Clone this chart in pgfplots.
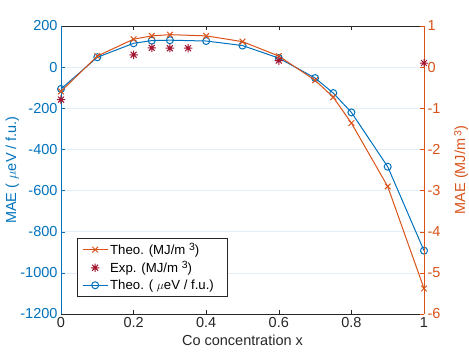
\documentclass[border=0pt]{standalone}
\usepackage{fontspec}
\setmainfont{Liberation Sans}
\usepackage{pgfplots}
\usepackage{pgfplotstable}
\pgfplotsset{compat=1.18}

\definecolor{mblue}{rgb}{0,0.447,0.741}
\definecolor{morange}{rgb}{0.85,0.325,0.098}
\definecolor{mred}{rgb}{0.635,0.078,0.184}
\definecolor{axgray}{rgb}{0.15,0.15,0.15}
\definecolor{gridc}{rgb}{0.89,0.93,0.97}

% MATLAB-like 8-armed asterisk
\pgfdeclareplotmark{ast8}{%
  \pgfpathmoveto{\pgfqpoint{-\pgfplotmarksize}{0pt}}%
  \pgfpathlineto{\pgfqpoint{\pgfplotmarksize}{0pt}}%
  \pgfpathmoveto{\pgfqpoint{0pt}{-\pgfplotmarksize}}%
  \pgfpathlineto{\pgfqpoint{0pt}{\pgfplotmarksize}}%
  \pgfpathmoveto{\pgfqpoint{-0.707\pgfplotmarksize}{-0.707\pgfplotmarksize}}%
  \pgfpathlineto{\pgfqpoint{0.707\pgfplotmarksize}{0.707\pgfplotmarksize}}%
  \pgfpathmoveto{\pgfqpoint{-0.707\pgfplotmarksize}{0.707\pgfplotmarksize}}%
  \pgfpathlineto{\pgfqpoint{0.707\pgfplotmarksize}{-0.707\pgfplotmarksize}}%
  \pgfusepathqstroke}

% x, theory in ueV/f.u., theory in MJ/m^3
\pgfplotstableread{
x     mev   mj
0     -106  -0.59
0.1    48    0.27
0.2    116   0.68
0.25   129   0.76
0.3    131   0.79
0.4    127   0.76
0.5    105   0.62
0.6    44    0.27
0.7   -53   -0.32
0.75  -126  -0.73
0.8   -220  -1.36
0.9   -484  -2.90
1     -892  -5.38
}\theo

\pgfplotstableread{
x     mj
0    -0.79
0.2   0.30
0.25  0.47
0.3   0.46
0.35  0.46
0.6   0.16
1     0.10
}\expdata

\newcommand{\axfont}{\fontsize{14.5}{17}\selectfont}
\newcommand{\supthree}{\raisebox{0.5ex}{\fontsize{10.5}{10}\selectfont 3}}

\begin{document}
\begin{tikzpicture}
\pgfplotsset{
  every axis/.append style={
    scale only axis, width=363pt, height=288pt,
    xmin=0, xmax=1,
    tick align=inside, major tick length=3.6pt,
    tick label style={font=\axfont},
    label style={font=\axfont},
    /pgf/number format/assume math mode=true,
    /pgf/number format/1000 sep={},
  },
}
\begin{axis}[
  ymin=-1200, ymax=200,
  xtick={0,0.2,0.4,0.6,0.8,1},
  ytick={-1200,-1000,-800,-600,-400,-200,0,200},
  xtick pos=both, ytick pos=left,
  separate axis lines,
  x axis line style={draw=axgray},
  y axis line style={draw=mblue},
  xtick style={draw=axgray}, ytick style={draw=mblue},
  xticklabel style={text=axgray},
  yticklabel style={text=mblue},
  ymajorgrids, grid style={draw=gridc, line width=0.6pt},
  xlabel={Co concentration x}, xlabel style={text=axgray},
  ylabel={MAE ( $\mu$eV / f.u.)},
  ylabel style={text=mblue, at={(axis description cs:-0.134,0.5)},
    anchor=center},
]
\coordinate (O) at (rel axis cs:0,0);
\addplot[mblue, line width=1pt, mark=o, mark size=3.5pt]
  table[x=x, y=mev] {\theo};
\end{axis}

\begin{axis}[
  ymin=-6, ymax=1,
  ytick={-6,-5,-4,-3,-2,-1,0,1},
  axis x line=none, axis y line*=right,
  tick align=inside,
  y axis line style={draw=morange, -},
  ytick style={draw=morange},
  yticklabel style={text=morange},
  ylabel={MAE (MJ/m\,\supthree)},
  ylabel style={text=morange, at={(axis description cs:1.102,0.5)},
    anchor=center},
  legend style={at={(rel axis cs:0.044,0.0625)}, anchor=south west,
    draw=axgray, text=black, font=\fontsize{13.2}{15}\selectfont,
    inner xsep=5pt, inner ysep=3pt, row sep=1.8pt, cells={anchor=west}},
  legend image code/.code={%
    \draw[mark repeat=2, mark phase=2]
      plot coordinates {(0pt,0pt) (12.5pt,0pt) (25pt,0pt)};},
]
\addplot[morange, line width=1pt, mark=x, mark size=4pt]
  table[x=x, y=mj] {\theo};
\addlegendentry{Theo. (MJ/m \supthree)}
\addplot[mred, only marks, mark=ast8, mark size=4.2pt, line width=1pt]
  table[x=x, y=mj] {\expdata};
\addlegendentry{Exp. (MJ/m \supthree)}
\addlegendimage{mblue, line width=1pt, mark=o, mark size=3.5pt}
\addlegendentry{Theo. ( $\mu$eV / f.u.)\hspace*{6pt}}
\end{axis}

\pgfresetboundingbox
\path[use as bounding box] (O) ++(-61pt,-40pt) rectangle ++(469pt,354pt);
\end{tikzpicture}
\end{document}
